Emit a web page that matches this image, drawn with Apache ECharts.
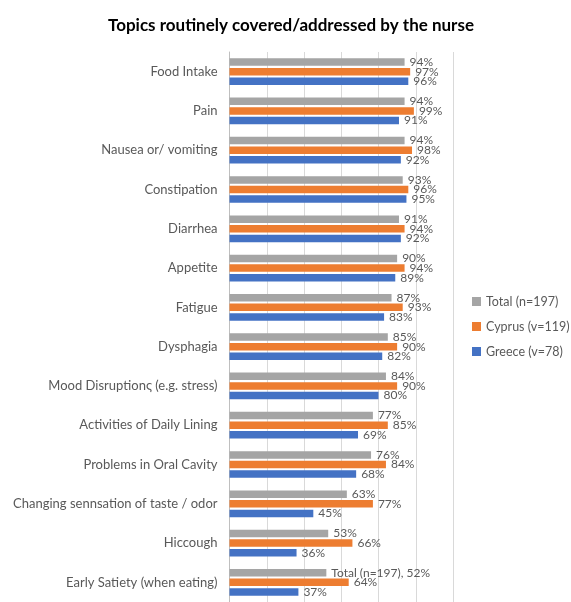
<!DOCTYPE html>
<html><head><meta charset="utf-8">
<script src="https://cdn.jsdelivr.net/npm/echarts@6/dist/echarts.min.js"></script>
<style>html,body{margin:0;padding:0;background:#fff}#c{width:571px;height:602px}</style>
</head><body><div id="c"></div>
<script>
const categories = ["Food Intake","Pain","Nausea or/ vomiting","Constipation","Diarrhea","Appetite","Fatigue","Dysphagia","Mood Disruptionς (e.g. stress)","Activities of Daily Lining","Problems in Oral Cavity","Changing sennsation of taste / odor","Hiccough","Early Satiety (when eating)"];
const seriesNames = ["Total (n=197)","Cyprus (v=119)","Greece (v=78)"];
const totalVals = [94,94,94,93,91,90,87,85,84,77,76,63,53,52];
const cyprusVals = [97,99,98,96,94,94,93,90,90,85,84,77,66,64];
const greeceVals = [96,91,92,95,92,89,83,82,80,69,68,45,36,37];
const colors = ["#A5A5A5","#ED7D31","#4472C4"];
const FONT = "Lato";
const chart = echarts.init(document.getElementById('c'));
function mk(name, vals, color){
  return {
    name, type:'bar', data: vals.map((v,i)=>({value:v})),
    barWidth: 7.5, barGap: '28%',
    itemStyle:{color},
    label:{show:true, position:'right', distance:5, color:'#595959', fontSize:12, fontFamily:FONT,
      formatter: p => (name===seriesNames[0] && p.dataIndex===categories.length-1) ? name + ', ' + p.value + '%' : p.value + '%'}
  };
}
chart.setOption({
  animation:false,
  title:{text:'Topics routinely covered/addressed by the nurse', left:286, textAlign:'center', top:12,
    textStyle:{fontFamily:FONT, fontSize:17, fontWeight:'bold', color:'#000'}},
  legend:{orient:'vertical', left:472, top:295, itemWidth:9, itemHeight:9, itemGap:12, padding:0,
    icon:'rect', textStyle:{fontFamily:FONT, fontSize:12.5, color:'#595959', overflow:'none'}, data:seriesNames},
  grid:{left:229.5, right:118, top:52, bottom:0, containLabel:false},
  xAxis:{type:'value', min:0, max:120, interval:20, axisLabel:{show:false},
    splitLine:{lineStyle:{color:'#D9D9D9'}}, axisLine:{show:false}, axisTick:{show:false}},
  yAxis:{type:'category', inverse:true, data:categories,
    axisLine:{show:true, lineStyle:{color:'#BFBFBF'}}, axisTick:{show:false},
    axisLabel:{fontFamily:FONT, fontSize:13, color:'#595959', margin:12}},
  series:[mk(seriesNames[0], totalVals, colors[0]), mk(seriesNames[1], cyprusVals, colors[1]), mk(seriesNames[2], greeceVals, colors[2])]
});
</script></body></html>
